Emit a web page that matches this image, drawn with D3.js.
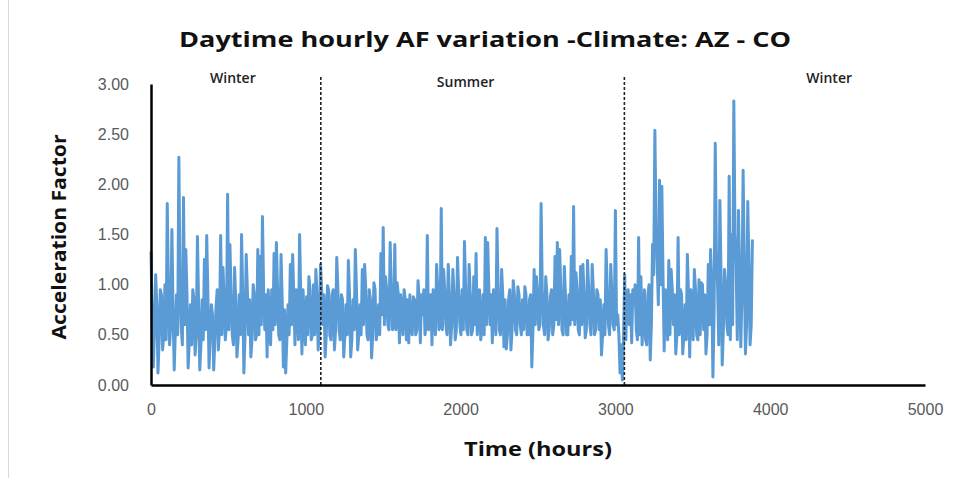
<!DOCTYPE html>
<html>
<head>
<meta charset="utf-8">
<script src="https://cdn.jsdelivr.net/npm/d3@7"></script>
<style>
  body { margin: 0; background: #fff; }
  svg { display: block; font-family: "Open Sans", sans-serif; }
</style>
</head>
<body>
<svg id="chart" width="969" height="484"></svg>
<script>
// hourly daytime AF: one reading on each 15 h mark
var hourStep = 15
var af = [
  1.33, 0.18, 1.10, 0.12, 0.95, 0.35, 1.00, 1.81, 0.40, 1.55,
  0.15, 0.90, 2.27, 0.60, 1.87, 1.35, 0.17, 0.80, 0.95, 0.30,
  1.48, 0.15, 0.85, 1.25, 1.49, 0.17, 0.80, 0.15, 0.77, 0.35,
  1.49, 1.17, 0.45, 1.90, 1.40, 0.50, 1.17, 0.28, 0.90, 1.50,
  0.12, 1.30, 0.50, 0.28, 1.00, 0.45, 1.35, 1.28, 1.68, 0.55,
  0.28, 0.60, 0.95, 1.31, 1.42, 0.50, 1.30, 0.18, 0.12, 0.80,
  1.20, 1.30, 0.40, 0.77, 1.50, 0.31, 0.60, 0.88, 1.08, 0.45,
  1.00, 1.15, 0.35, 1.20, 0.60, 0.28, 0.99, 0.50, 0.90, 0.35,
  1.27, 0.55, 0.90, 0.28, 0.80, 1.24, 0.28, 0.85, 1.35, 0.35,
  0.80, 1.15, 1.20, 0.50, 0.95, 0.27, 1.02, 0.45, 0.80, 1.31,
  1.57, 1.08, 0.60, 1.42, 0.55, 1.40, 1.02, 0.42, 0.75, 0.95,
  0.45, 0.42, 0.60, 0.88, 0.50, 1.04, 0.42, 0.70, 0.50, 1.49,
  0.80, 0.40, 0.70, 1.20, 0.55, 1.76, 1.15, 0.60, 1.20, 0.40,
  1.15, 0.45, 1.27, 0.60, 0.95, 1.43, 0.55, 1.20, 0.50, 1.08,
  1.31, 0.70, 0.45, 0.90, 1.47, 1.42, 0.60, 0.42, 0.80, 1.56,
  0.55, 1.15, 0.38, 0.36, 0.85, 0.35, 1.04, 0.55, 0.98, 0.60,
  0.85, 0.98, 0.50, 0.85, 0.18, 1.15, 1.08, 0.55, 1.81, 0.60,
  1.08, 0.45, 0.88, 0.50, 1.28, 1.42, 1.35, 0.55, 1.18, 0.50,
  0.90, 1.28, 1.78, 1.12, 0.55, 1.18, 1.20, 0.47, 1.24, 0.60,
  1.20, 0.50, 0.95, 0.55, 0.30, 0.80, 1.35, 0.60, 1.20, 0.60,
  1.74, 0.70, 0.12, 0.05, 1.10, 0.88, 0.60, 0.42, 0.80, 0.55,
  1.47, 1.08, 0.70, 0.45, 0.90, 0.25, 1.40, 2.54, 1.20, 2.04,
  1.98, 0.34, 0.80, 1.24, 1.15, 0.60, 0.31, 1.47, 0.95, 0.31,
  0.80, 1.30, 0.28, 0.70, 1.15, 0.50, 1.05, 1.02, 0.55, 0.31,
  1.20, 1.35, 0.08, 2.41, 1.00, 1.84, 0.20, 1.15, 0.60, 2.08,
  1.50, 2.83, 1.20, 1.74, 0.38, 2.14, 0.31, 1.83, 0.40, 1.45
]
// readings half way between the marks above (the dense core of the band)
var afMid = [
  0.70, 0.55, 0.80, 0.45, 0.90, 0.50, 0.45, 0.95, 0.60, 0.75,
  0.55, 0.50, 1.00, 0.40, 0.60, 0.90, 0.45, 0.40, 0.85, 0.50,
  0.80, 0.40, 0.45, 0.55, 0.90, 0.50, 0.70, 0.45, 0.95, 0.55,
  0.50, 0.85, 0.60, 0.55, 0.90, 0.40, 0.85, 0.45, 0.50, 0.90,
  0.50, 0.95, 0.85, 0.45, 0.90, 0.50, 0.50, 0.60, 0.95, 0.90,
  0.95, 0.40, 0.55, 0.60, 0.95, 0.45, 0.85, 0.75, 0.45, 0.50,
  0.60, 0.90, 0.95, 0.45, 0.90, 0.95, 0.40, 0.50, 0.95, 0.50,
  0.50, 0.90, 0.55, 0.95, 0.90, 0.50, 0.95, 0.45, 0.95, 0.55,
  0.95, 0.45, 0.85, 0.50, 0.50, 0.90, 0.45, 0.55, 0.95, 0.50,
  0.50, 0.60, 0.95, 0.45, 0.85, 0.50, 0.95, 0.55, 0.50, 0.70,
  0.60, 0.95, 0.55, 0.95, 0.60, 0.55, 0.90, 0.90, 0.50, 0.85,
  0.85, 0.90, 0.50, 0.85, 0.55, 0.85, 0.90, 0.95, 0.60, 0.55,
  0.90, 0.95, 0.50, 0.95, 0.60, 0.55, 0.95, 0.50, 0.90, 0.60,
  0.90, 0.55, 0.95, 0.50, 0.55, 0.95, 0.50, 0.90, 0.55, 0.60,
  0.50, 0.95, 0.55, 0.50, 0.60, 0.95, 0.90, 0.95, 0.50, 0.95,
  0.50, 0.90, 0.85, 0.50, 0.95, 0.55, 0.90, 0.50, 0.90, 0.50,
  0.55, 0.90, 0.50, 0.90, 0.55, 0.60, 0.90, 0.60, 0.95, 0.50,
  0.90, 0.55, 0.95, 0.60, 0.65, 0.60, 0.95, 0.50, 0.90, 0.50,
  0.60, 0.65, 0.60, 0.95, 0.50, 0.60, 0.90, 0.55, 0.95, 0.50,
  0.95, 0.55, 0.90, 0.85, 0.50, 0.50, 0.95, 0.50, 0.90, 0.55,
  0.60, 0.50, 0.40, 0.45, 0.45, 0.95, 0.90, 0.95, 1.00, 0.45,
  0.50, 0.40, 0.95, 0.40, 1.00, 0.60, 1.10, 1.60, 0.80, 1.00,
  1.10, 0.95, 0.45, 0.50, 0.95, 0.90, 0.50, 0.50, 0.90, 0.50,
  0.45, 0.90, 0.95, 0.45, 0.95, 0.45, 0.50, 1.00, 0.90, 0.50,
  0.60, 1.00, 0.70, 1.30, 0.40, 1.10, 0.55, 1.00, 0.50, 0.45,
  0.60, 1.50, 0.45, 1.10, 0.90, 1.20, 0.60, 1.20, 0.60
]

var seasonBreaks = [1097, 3058]
var seasonNames = ["Winter", "Summer", "Winter"]
var seasonHours = [529, 2032, 4381]
var seasonY = [3.01, 2.97, 3.01]

var xTicks = [0, 1000, 2000, 3000, 4000, 5000]
var yTicks = [0, 0.5, 1, 1.5, 2, 2.5, 3]

var lineColor = "#5b9bd5"

var series = []
af.forEach(function(v, i) {
  series.push({ hour: i * hourStep, value: v })
  if (i < afMid.length) series.push({ hour: i * hourStep + hourStep / 2, value: afMid[i] })
})

var svg = d3.select("#chart")

var x = d3.scaleLinear().domain([0, 5000]).range([151, 925])
var y = d3.scaleLinear().domain([0, 3]).range([385, 84])

// faint frame edge on the left of the original picture
svg.append("line")
  .attr("x1", 8.5).attr("x2", 8.5).attr("y1", 0).attr("y2", 478)
  .attr("stroke", "#d9d9d9").attr("stroke-width", 1)

svg.append("text")
  .attr("x", 485).attr("y", 47)
  .attr("text-anchor", "middle")
  .attr("textLength", 612).attr("lengthAdjust", "spacingAndGlyphs")
  .style("font-size", "21px").style("font-weight", "bold")
  .attr("fill", "#111")
  .text("Daytime hourly AF variation -Climate: AZ - CO")

var line = d3.line()
  .x(function(d) { return x(d.hour) })
  .y(function(d) { return y(d.value) })

svg.append("path")
  .datum(series)
  .attr("fill", "none")
  .attr("stroke", lineColor)
  .attr("stroke-width", 3)
  .attr("stroke-linejoin", "round")
  .attr("d", line)

// season dividers
svg.selectAll(".divider")
    .data(seasonBreaks)
  .enter().append("line")
    .attr("class", "divider")
    .attr("x1", function(d) { return x(d) })
    .attr("x2", function(d) { return x(d) })
    .attr("y1", 77).attr("y2", y(0))
    .attr("stroke", "#222")
    .attr("stroke-width", 1.6)
    .attr("stroke-dasharray", "3,2")

svg.selectAll(".season")
    .data(seasonNames)
  .enter().append("text")
    .attr("class", "season")
    .attr("x", function(d, i) { return x(seasonHours[i]) })
    .attr("y", function(d, i) { return y(seasonY[i]) })
    .attr("text-anchor", "middle")
    .style("font-size", "14px").style("font-weight", "600")
    .attr("fill", "#222")
    .text(function(d) { return d })

var xAxis = svg.append("g")
  .attr("transform", "translate(0," + y(0) + ")")
  .call(d3.axisBottom(x).tickValues(xTicks).tickSize(0).tickPadding(19).tickFormat(d3.format("d")))
xAxis.select(".domain").attr("stroke", "#000").attr("stroke-width", 2.5)
xAxis.selectAll("text").style("font-size", "16px").attr("fill", "#595959")

var yAxis = svg.append("g")
  .attr("transform", "translate(" + x(0) + ",0)")
  .call(d3.axisLeft(y).tickValues(yTicks).tickSize(0).tickPadding(22).tickFormat(d3.format(".2f")))
yAxis.select(".domain").attr("stroke", "#000").attr("stroke-width", 2.5)
yAxis.selectAll("text").style("font-size", "16px").attr("fill", "#595959")

svg.append("text")
  .attr("x", 538).attr("y", 456)
  .attr("text-anchor", "middle")
  .attr("textLength", 148).attr("lengthAdjust", "spacingAndGlyphs")
  .style("font-size", "19px").style("font-weight", "bold")
  .attr("fill", "#111")
  .text("Time (hours)")

svg.append("text")
  .attr("transform", "translate(66,237) rotate(-90)")
  .attr("text-anchor", "middle")
  .attr("textLength", 205).attr("lengthAdjust", "spacingAndGlyphs")
  .style("font-size", "19px").style("font-weight", "bold")
  .attr("fill", "#111")
  .text("Acceleration Factor")
</script>
</body>
</html>
